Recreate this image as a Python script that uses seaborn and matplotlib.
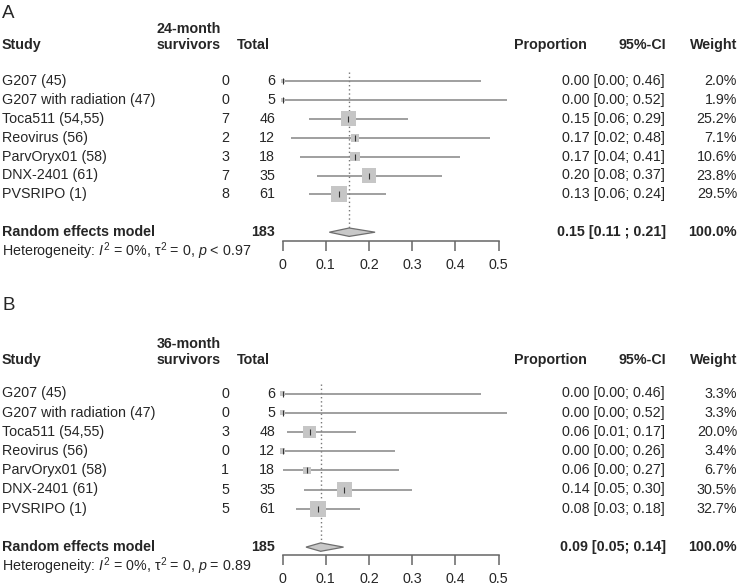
import matplotlib
matplotlib.use("Agg")
import matplotlib.pyplot as plt
import matplotlib.transforms as mtransforms
from matplotlib.patches import Polygon
import seaborn as sns
import pandas as pd

# Estudios (iguales en ambos paneles)
studies = ["G207 (45)", "G207 with radiation (47)", "Toca511 (54,55)", "Reovirus (56)",
           "ParvOryx01 (58)", "DNX-2401 (61)", "PVSRIPO (1)"]

# Panel A: supervivientes a 24 meses
events_a = [0, 0, 7, 2, 3, 7, 8]
total_a = [6, 5, 46, 12, 18, 35, 61]
prop_a = [0.0, 0.0, 0.152, 0.167, 0.167, 0.200, 0.131]
lower_a = [0.00, 0.00, 0.06, 0.02, 0.04, 0.08, 0.06]
upper_a = [0.46, 0.52, 0.29, 0.48, 0.41, 0.37, 0.24]
weight_a = [2.0, 1.9, 25.2, 7.1, 10.6, 23.8, 29.5]
pooled_a = [0.154, 0.108, 0.214]
pooled_text_a = "0.15 [0.11 ; 0.21]"
sum_a = 183
het_a = r"Heterogeneity: $\mathit{I}^2$ = 0%, τ$^2$ = 0, $\mathit{p}$ < 0.97"

# Panel B: supervivientes a 36 meses
events_b = [0, 0, 3, 0, 1, 5, 5]
total_b = [6, 5, 48, 12, 18, 35, 61]
prop_b = [0.0, 0.0, 0.0625, 0.0, 0.056, 0.143, 0.082]
lower_b = [0.00, 0.00, 0.01, 0.00, 0.00, 0.05, 0.03]
upper_b = [0.46, 0.52, 0.17, 0.26, 0.27, 0.30, 0.18]
weight_b = [3.3, 3.3, 20.0, 3.4, 6.7, 30.5, 32.7]
pooled_b = [0.088, 0.054, 0.141]
pooled_text_b = "0.09 [0.05; 0.14]"
sum_b = 185
het_b = r"Heterogeneity: $\mathit{I}^2$ = 0%, τ$^2$ = 0, $\mathit{p}$ = 0.89"

sns.set_style("white")
plt.rcParams['font.family'] = ['Liberation Sans', 'DejaVu Sans']
plt.rcParams['mathtext.fontset'] = 'custom'
plt.rcParams['mathtext.rm'] = 'Liberation Sans'
plt.rcParams['mathtext.it'] = 'Liberation Sans:italic'

W, H = 738, 586
FS = 10.3
fig = plt.figure(figsize=(W / 100, H / 100), dpi=100)


def fx(px):
    return px / W


def draw_panel(top_px, axis_px, row1_px, step, letter, letter_row, head_row, month,
               events, total, prop, lower, upper, weight, pooled, pooled_text, n_sum, het):
    top_row = 1 + (top_px - row1_px) / step
    bottom_row = 1 + (axis_px - row1_px) / step
    ax = fig.add_axes([fx(282.7), 1 - axis_px / H, fx(498.5 - 282.7), (axis_px - top_px) / H])
    ax.set_xlim(0, 0.5)
    ax.set_ylim(bottom_row, top_row)

    df = pd.DataFrame({'study': studies, 'prop': prop, 'lower': lower, 'upper': upper,
                       'weight': weight, 'row': range(1, len(studies) + 1)})

    # Intervalos de confianza
    ax.hlines(df['row'], df['lower'], df['upper'], color='#858585', lw=1.1, clip_on=False, zorder=2)
    # Cuadrados proporcionales al peso
    sns.scatterplot(data=df, x='prop', y='row', size='weight', sizes=(0, 136),
                    size_norm=(0, max(weight)), marker='s', color='#c6c6c6', linewidth=0,
                    legend=False, ax=ax, clip_on=False, zorder=3)
    ax.scatter(df['prop'], df['row'], marker='|', s=13, color='#333333', linewidths=0.8,
               clip_on=False, zorder=4)

    # Modelo de efectos aleatorios
    h = 4.2 / step
    est, lo, hi = pooled
    ax.vlines(est, 0.5, 9 - h, color='#777777', lw=1.0, linestyles=(0, (1, 2)), zorder=1)
    ax.add_patch(Polygon([(lo, 9), (est, 9 - h), (hi, 9), (est, 9 + h)], closed=True,
                         facecolor='#c8c8c8', edgecolor='#6e6e6e', lw=0.9, clip_on=False, zorder=3))

    # Eje
    for s in ['top', 'left', 'right']:
        ax.spines[s].set_visible(False)
    ax.spines['bottom'].set_color('#666666')
    ax.spines['bottom'].set_linewidth(1.1)
    ax.set_yticks([])
    ax.set_xticks([0, 0.1, 0.2, 0.3, 0.4, 0.5])
    ax.set_xticklabels(['0', '0.1', '0.2', '0.3', '0.4', '0.5'])
    ax.tick_params(axis='x', direction='out', length=7.2, width=1.1, color='#666666',
                   labelsize=FS, pad=5, bottom=True)
    ax.set_xlabel('')
    ax.set_ylabel('')
    ax.patch.set_alpha(0)

    tr = mtransforms.blended_transform_factory(fig.transFigure, ax.transData)
    txt = dict(transform=tr, fontsize=FS, va='center')
    bold = dict(txt, fontweight='bold')

    ax.text(fx(2), letter_row, letter, transform=tr, fontsize=13.5, va='center')
    # Cabeceras
    ax.text(fx(221), head_row - 16 / step, month, ha='right', **bold)
    ax.text(fx(2), head_row, 'Study', ha='left', **bold)
    ax.text(fx(221), head_row, 'survivors', ha='right', **bold)
    ax.text(fx(270), head_row, 'Total', ha='right', **bold)
    ax.text(fx(587), head_row, 'Proportion', ha='right', **bold)
    ax.text(fx(666), head_row, '95%-CI', ha='right', **bold)
    ax.text(fx(737), head_row, 'Weight', ha='right', **bold)

    for i, r in df.iterrows():
        ax.text(fx(2), r['row'], r['study'], ha='left', **txt)
        ax.text(fx(229), r['row'], str(events[i]), ha='right', **txt)
        ax.text(fx(275), r['row'], str(total[i]), ha='right', **txt)
        ax.text(fx(665), r['row'], f"{r['prop']:.2f} [{r['lower']:.2f}; {r['upper']:.2f}]", ha='right', **txt)
        ax.text(fx(737), r['row'], f"{r['weight']:.1f}%", ha='right', **txt)

    ax.text(fx(2), 9, 'Random effects model', ha='left', **bold)
    ax.text(fx(275), 9, str(n_sum), ha='right', **bold)
    ax.text(fx(666), 9, pooled_text, ha='right', **bold)
    ax.text(fx(737), 9, '100.0%', ha='right', **bold)
    ax.text(fx(2), 10, het, ha='left', **txt)


draw_panel(5, 240.7, 81, 18.9, 'A', 1 + (13 - 81) / 18.9, 1 + (45 - 81) / 18.9, '24-month',
           events_a, total_a, prop_a, lower_a, upper_a, weight_a, pooled_a, pooled_text_a, sum_a, het_a)
draw_panel(320, 555, 393.5, 19.2, 'B', 1 + (305 - 393.5) / 19.2, 1 + (360 - 393.5) / 19.2, '36-month',
           events_b, total_b, prop_b, lower_b, upper_b, weight_b, pooled_b, pooled_text_b, sum_b, het_b)

plt.savefig('out.png', dpi=100)
